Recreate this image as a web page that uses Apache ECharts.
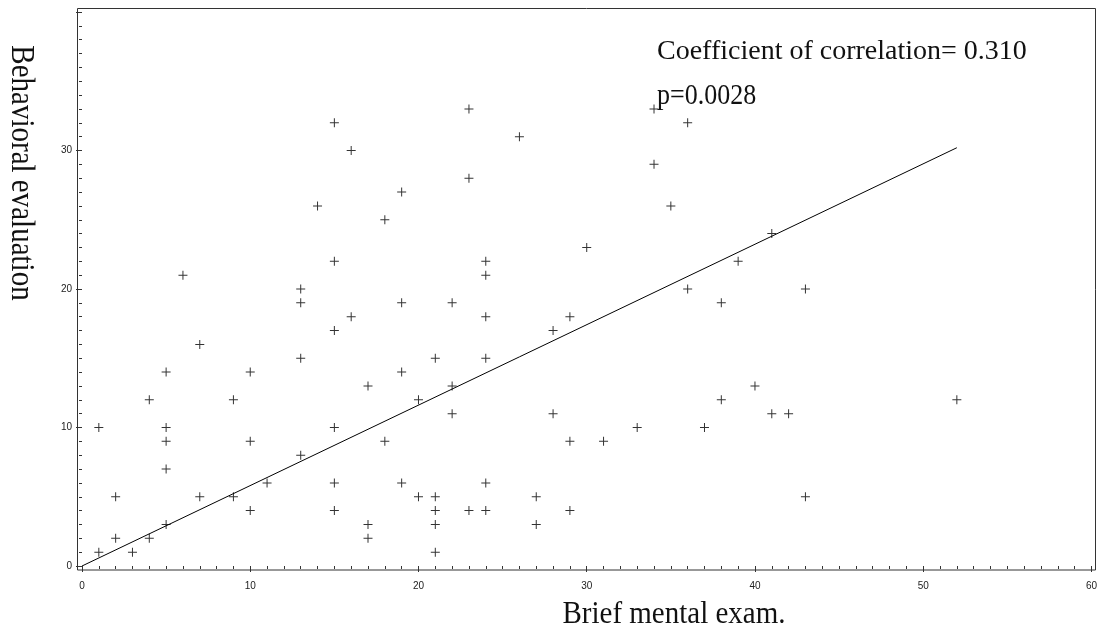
<!DOCTYPE html>
<html>
<head>
<meta charset="utf-8">
<script src="https://cdn.jsdelivr.net/npm/echarts@6/dist/echarts.min.js"></script>
<style>html,body{margin:0;padding:0;background:#fff}#c{width:1100px;height:633px}</style>
</head>
<body>
<div id="c"></div>
<script>
// Brief mental exam (x) and Behavioral evaluation (y)
const examScores = [1,1,2,2,3,4,4,5,5,5,5,5,6,7,7,9,9,10,10,10,11,13,13,13,13,14,15,15,15,15,15,15,16,16,17,17,17,18,18,19,19,19,19,20,20,21,21,21,21,21,22,22,22,23,23,23,24,24,24,24,24,24,26,27,27,28,28,29,29,29,30,31,33,34,34,35,36,36,37,38,38,39,40,41,41,42,43,43,52];
const behaviorScores = [10,1,5,2,1,12,2,14,10,9,7,3,21,16,5,12,5,14,9,4,6,20,19,15,8,26,32,22,17,10,6,4,30,18,13,3,2,25,9,27,19,14,6,12,5,15,5,4,3,1,19,13,11,33,28,4,22,21,18,15,6,4,31,5,3,17,11,18,9,4,23,9,10,33,29,26,32,20,10,19,12,22,13,24,11,11,20,5,12];
// regression line end points
const fitX = [0, 52];
const fitY = [0, 30.2];
const xTickLabels = ['0','10','20','30','40','50','60'];
const yTickLabels = ['0','10','20','30'];
const xTitle = 'Brief mental exam.';
const yTitle = 'Behavioral evaluation';
const noteLines = ['Coefficient of correlation= 0.310', 'p=0.0028'];

const points = examScores.map((x, i) => [x, behaviorScores[i]]);
const fitLine = fitX.map((x, i) => [x, fitY[i]]);

const chart = echarts.init(document.getElementById('c'), null, {renderer: 'canvas'});
const axisCommon = {
  type: 'value',
  interval: 10,
  min: 0,
  axisLine: {show: false},
  axisTick: {show: true, length: 6, lineStyle: {color: '#333', width: 1}},
  minorTick: {show: true, splitNumber: 10, length: 3, lineStyle: {color: '#333', width: 1}},
  splitLine: {show: false},
  minorSplitLine: {show: false},
  axisLabel: {color: '#222', fontSize: 10, fontFamily: 'Liberation Sans, Arial, sans-serif'}
};
chart.setOption({
  animation: false,
  backgroundColor: '#fff',
  grid: {left: 82, right: 7, top: 12, bottom: 67, containLabel: false},
  xAxis: Object.assign({}, axisCommon, {
    max: 60, offset: 4,
    axisLabel: Object.assign({}, axisCommon.axisLabel, {margin: 11,
      formatter: v => xTickLabels.includes(String(v)) ? String(v) : ''})
  }),
  yAxis: Object.assign({}, axisCommon, {
    max: 40, offset: 5,
    axisLabel: Object.assign({}, axisCommon.axisLabel, {margin: 5,
      formatter: v => yTickLabels.includes(String(v)) ? String(v) : ''})
  }),
  graphic: [
    {type: 'rect', z: 100, silent: true,
     shape: {x: 77.5, y: 8.5, width: 1018, height: 561.5},
     style: {fill: 'none', stroke: '#333', lineWidth: 1}},
    {type: 'text', z: 100, x: 674, y: 615, scaleY: 1.08,
     style: {text: xTitle, font: '29px "Liberation Serif", serif', fill: '#111', align: 'center', verticalAlign: 'middle'}},
    {type: 'text', z: 100, x: 21, y: 173, rotation: -Math.PI / 2, scaleY: 1.15,
     style: {text: yTitle, font: '29px "Liberation Serif", serif', fill: '#111', align: 'center', verticalAlign: 'middle'}},
    {type: 'text', z: 100, x: 657, y: 52,
     style: {text: noteLines[0], font: '28px "Liberation Serif", serif', fill: '#111', align: 'left', verticalAlign: 'middle'}},
    {type: 'text', z: 100, x: 657, y: 96, scaleY: 1.15,
     style: {text: noteLines[1], font: '26px "Liberation Serif", serif', fill: '#111', align: 'left', verticalAlign: 'middle'}}
  ],
  series: [
    {type: 'scatter', data: points, symbol: 'path://M4,0h1v4h4v1h-4v4h-1v-4h-4v-1h4z', symbolSize: 9,
     itemStyle: {color: '#000'}, emphasis: {disabled: true}},
    {type: 'line', data: fitLine, symbol: 'none', lineStyle: {color: '#000', width: 1}, emphasis: {disabled: true}}
  ]
});
</script>
</body>
</html>
